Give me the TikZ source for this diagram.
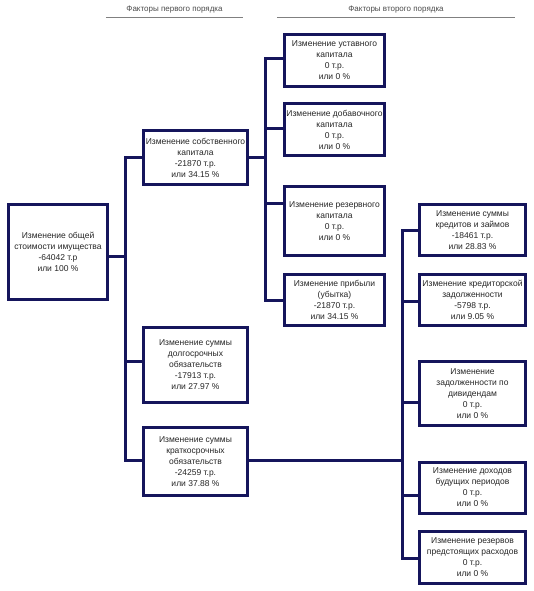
\documentclass[tikz,border=0pt]{standalone}
\usepackage{fontspec}
\setmainfont{Liberation Sans}
\definecolor{navy}{HTML}{15155C}
\begin{document}
\begin{tikzpicture}[x=1pt,y=-1pt,
 box/.style={draw=navy, line width=3pt, fill=white, align=center, font=\fontsize{8.5}{11}\selectfont, text=black!85, inner sep=0pt},
 conn/.style={draw=navy, line width=3pt},
 trunk/.style={draw=navy, line width=3pt, line cap=rect},
 hdr/.style={font=\fontsize{8}{10}\selectfont, text=black!70, minimum height=14pt, inner sep=0pt},
 hline/.style={draw=black!50, line width=0.8pt}]
\useasboundingbox (0,0) rectangle (534,591);
\fill[white] (0,0) rectangle (534,591);

% headers
\node[hdr, minimum width=137pt] (h1) at (174.5,10) {Факторы первого порядка};
\node[hdr, minimum width=238pt] (h2) at (396,10) {Факторы второго порядка};
\draw[hline] (h1.south west) -- (h1.south east);
\draw[hline] (h2.south west) -- (h2.south east);

% root
\node[box, minimum width=99pt, minimum height=95pt] (root) at (58,252)
 {Изменение общей\\стоимости имущества\\-64042 т.р\\или 100 \%};

% first order
\node[box, minimum width=104pt, minimum height=54pt] (b1) at (195.5,157.5)
 {Изменение собственного\\капитала\\-21870 т.р.\\или 34.15 \%};
\node[box, minimum width=104pt, minimum height=75pt] (b2) at (195.5,365)
 {Изменение суммы\\долгосрочных\\обязательств\\-17913 т.р.\\или 27.97 \%};
\node[box, minimum width=104pt, minimum height=68pt] (b3) at (195.5,461.5)
 {Изменение суммы\\краткосрочных\\обязательств\\-24259 т.р.\\или 37.88 \%};

% second order (equity)
\node[box, minimum width=100pt, minimum height=52pt] (c1) at (334.5,60.5)
 {Изменение уставного\\капитала\\0 т.р.\\или 0 \%};
\node[box, minimum width=100pt, minimum height=52pt] (c2) at (334.5,129.5)
 {Изменение добавочного\\капитала\\0 т.р.\\или 0 \%};
\node[box, minimum width=100pt, minimum height=69pt] (c3) at (334.5,221)
 {Изменение резервного\\капитала\\0 т.р.\\или 0 \%};
\node[box, minimum width=100pt, minimum height=51pt] (c4) at (334.5,300)
 {Изменение прибыли\\(убытка)\\-21870 т.р.\\или 34.15 \%};

% second order (short-term liabilities)
\node[box, minimum width=106pt, minimum height=51pt] (d1) at (472.5,230)
 {Изменение суммы\\кредитов и займов\\-18461 т.р.\\или 28.83 \%};
\node[box, minimum width=106pt, minimum height=51pt] (d2) at (472.5,300)
 {Изменение кредиторской\\задолженности\\-5798 т.р.\\или 9.05 \%};
\node[box, minimum width=106pt, minimum height=64pt] (d3) at (472.5,393.5)
 {Изменение\\задолженности по\\дивидендам\\0 т.р.\\или 0 \%};
\node[box, minimum width=106pt, minimum height=51pt] (d4) at (472.5,487.5)
 {Изменение доходов\\будущих периодов\\0 т.р.\\или 0 \%};
\node[box, minimum width=106pt, minimum height=52pt] (d5) at (472.5,557)
 {Изменение резервов\\предстоящих расходов\\0 т.р.\\или 0 \%};

% trunk positions
\coordinate (t1) at (125,0);
\coordinate (t2) at (265,0);
\coordinate (t3) at (402,0);

% connectors level 1
\draw[conn] ([yshift=-4pt]root.east) -- ([yshift=-4pt]root.east -| t1);
\draw[trunk] (b1.west -| t1) -- ([yshift=1.5pt]b3.west -| t1);
\draw[conn] (b1.west) -- (b1.west -| t1);
\draw[conn] ([yshift=4pt]b2.west) -- ([yshift=4pt]b2.west -| t1);
\draw[conn] ([yshift=1.5pt]b3.west) -- ([yshift=1.5pt]b3.west -| t1);

% connectors level 2 (equity)
\draw[trunk] ([yshift=1.5pt]c1.west -| t2) -- (c4.west -| t2);
\draw[conn] (b1.east) -- (b1.east -| t2);
\draw[conn] ([yshift=1.5pt]c1.west) -- ([yshift=1.5pt]c1.west -| t2);
\draw[conn] ([yshift=1.5pt]c2.west) -- ([yshift=1.5pt]c2.west -| t2);
\draw[conn] ([yshift=18pt]c3.west) -- ([yshift=18pt]c3.west -| t2);
\draw[conn] (c4.west) -- (c4.west -| t2);

% connectors level 2 (short-term)
\draw[trunk] (d1.west -| t3) -- ([yshift=-1pt]d5.west -| t3);
\draw[conn] ([yshift=1.5pt]b3.east) -- ([yshift=1.5pt]b3.east -| t3);
\draw[conn] (d1.west) -- (d1.west -| t3);
\draw[conn] ([yshift=-1pt]d2.west) -- ([yshift=-1pt]d2.west -| t3);
\draw[conn] ([yshift=-8.5pt]d3.west) -- ([yshift=-8.5pt]d3.west -| t3);
\draw[conn] ([yshift=-7.5pt]d4.west) -- ([yshift=-7.5pt]d4.west -| t3);
\draw[conn] ([yshift=-1pt]d5.west) -- ([yshift=-1pt]d5.west -| t3);
\end{tikzpicture}
\end{document}
